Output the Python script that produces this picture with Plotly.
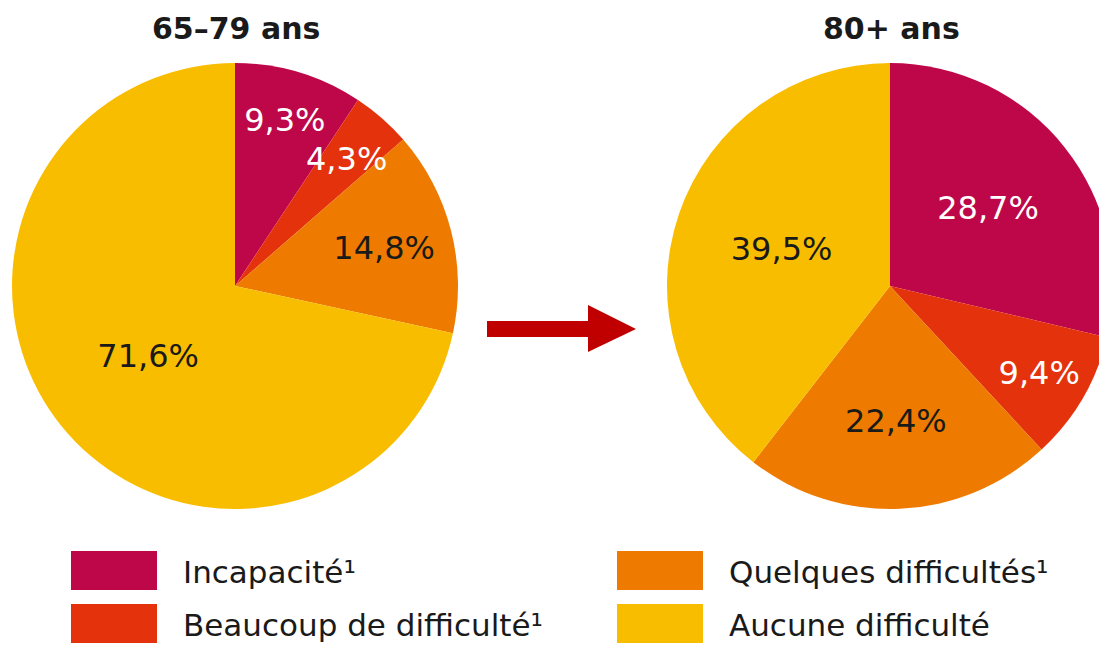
import math
import plotly.graph_objects as go

# ---- data ----
categories = ["Incapacité¹", "Beaucoup de difficulté¹", "Quelques difficultés¹", "Aucune difficulté"]
values_65_79 = [9.3, 4.3, 14.8, 71.6]
values_80 = [28.7, 9.4, 22.4, 39.5]
titles = ["65–79 ans", "80+ ans"]
colors = ["#BE0748", "#E4320C", "#EE7B00", "#F9BD00"]
text_colors = ["#FFFFFF", "#FFFFFF", "#1A1A1A", "#1A1A1A"]

W, H = 1116, 646
FONT = "DejaVu Sans"


def px(x):
    return x / W


def py(y):
    return 1 - y / H


def fmt(v):
    return f"{v:.1f}".replace(".", ",") + "%"


fig = go.Figure()

# pie geometry (pixels): centre and radius of each pie
pies = [dict(cx=235, cy=286, r=223), dict(cx=890, cy=286, r=223)]
# slices whose label is too big for the slice are written over it (as in the original)
small_slices = [[1], []]

annotations = []
for vals, g, small in zip([values_65_79, values_80], pies, small_slices):
    dom = dict(x=[px(g["cx"] - g["r"]), px(g["cx"] + g["r"])],
               y=[py(g["cy"] + g["r"]), py(g["cy"] - g["r"])])
    texts = [("" if i in small else fmt(v)) for i, v in enumerate(vals)]
    fig.add_trace(go.Pie(
        labels=categories,
        values=vals,
        text=texts,
        textinfo="text",
        textposition="inside",
        insidetextorientation="horizontal",
        insidetextfont=dict(family=FONT, size=32, color=text_colors),
        marker=dict(colors=colors, line=dict(width=0)),
        sort=False,
        direction="clockwise",
        rotation=0,
        domain=dom,
        showlegend=False,
        hoverinfo="label+value",
    ))
    total = sum(vals)
    cum = 0.0
    for i, v in enumerate(vals):
        if i in small:
            ang = 2 * math.pi * (cum + v / 2) / total
            rr = 0.76 * g["r"]
            x = g["cx"] + rr * math.sin(ang)
            y = g["cy"] - rr * math.cos(ang)
            annotations.append(dict(
                text=fmt(v), x=px(x), y=py(y), xref="paper", yref="paper",
                xanchor="center", yanchor="middle", showarrow=False,
                font=dict(family=FONT, size=32, color=text_colors[i]),
            ))
        cum += v

# titles
for t, g in zip(titles, pies):
    annotations.append(dict(
        text=f"<b>{t}</b>", x=px(g["cx"] + 1), y=py(28), xref="paper", yref="paper",
        xanchor="center", yanchor="middle", showarrow=False,
        font=dict(family=FONT, size=30, color="#1A1A1A"),
    ))

shapes = []
# arrow
arrow_path = (
    f"M {px(487)} {py(321)} L {px(588)} {py(321)} L {px(588)} {py(305)} "
    f"L {px(636)} {py(329)} L {px(588)} {py(352)} L {px(588)} {py(337)} "
    f"L {px(487)} {py(337)} Z"
)
shapes.append(dict(type="path", path=arrow_path, xref="paper", yref="paper",
                   fillcolor="#C00000", line=dict(width=0)))

# legend (manual, large swatches)
legend_pos = [(71, 551), (71, 604), (617, 551), (617, 604)]
for cat, col, (lx, ly) in zip(categories, colors, legend_pos):
    shapes.append(dict(type="rect", xref="paper", yref="paper",
                       x0=px(lx), x1=px(lx + 86), y0=py(ly + 39), y1=py(ly),
                       fillcolor=col, line=dict(width=0)))
    annotations.append(dict(
        text=cat, x=px(lx + 110), y=py(ly + 21), xref="paper", yref="paper",
        xanchor="left", yanchor="middle", showarrow=False,
        font=dict(family=FONT, size=31, color="#1A1A1A"),
    ))

fig.update_layout(
    width=W, height=H, autosize=False,
    margin=dict(l=0, r=0, t=0, b=0),
    paper_bgcolor="white", plot_bgcolor="white",
    shapes=shapes, annotations=annotations,
    font=dict(family=FONT),
)

fig.write_html(
    "out.html",
    config={"displayModeBar": False},
    post_script="document.body.style.margin='0';document.body.style.overflow='hidden';",
)
